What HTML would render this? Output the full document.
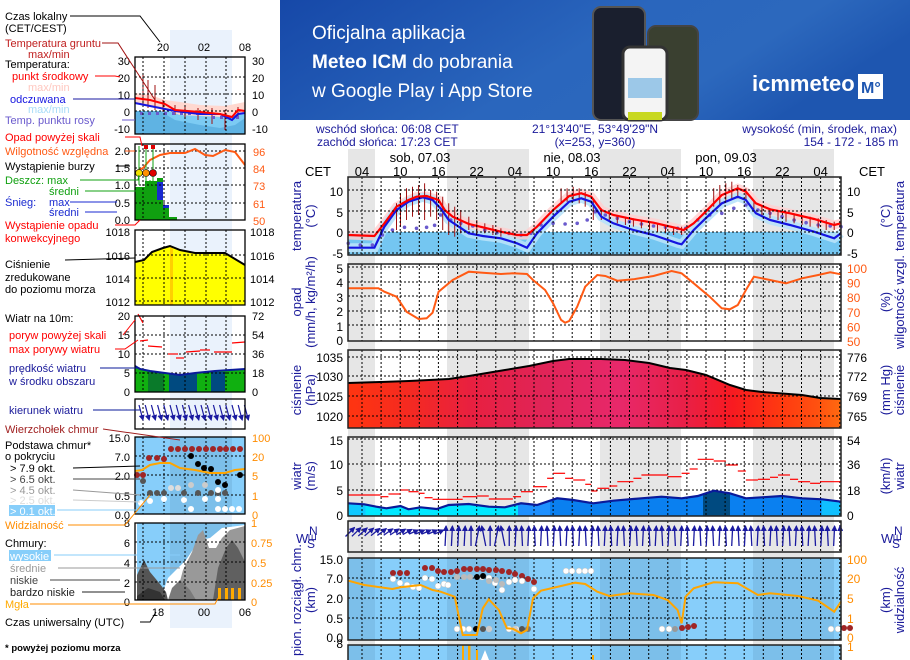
<!DOCTYPE html>
<html><head><meta charset="utf-8">
<style>
html,body{margin:0;padding:0;background:#fff;}
body{width:910px;height:660px;overflow:hidden;position:relative;font-family:"Liberation Sans",sans-serif;}
svg{position:absolute;left:0;top:0;}
text{font-family:"Liberation Sans",sans-serif;}
</style></head>
<body>
<svg id="s" width="910" height="660" viewBox="0 0 910 660" xmlns="http://www.w3.org/2000/svg">
<defs>
<linearGradient id="ban" x1="0" y1="0" x2="1" y2="0.3">
<stop offset="0" stop-color="#1648a8"/><stop offset="0.55" stop-color="#2a66bd"/><stop offset="0.8" stop-color="#2c68bd"/><stop offset="1" stop-color="#1e56b0"/></linearGradient>
<linearGradient id="pres" x1="348" y1="0" x2="841" y2="0" gradientUnits="userSpaceOnUse">
<stop offset="0" stop-color="#ff3510"/><stop offset="0.12" stop-color="#f52a20"/><stop offset="0.25" stop-color="#e82040"/>
<stop offset="0.4" stop-color="#e02458"/><stop offset="0.55" stop-color="#e8286a"/><stop offset="0.68" stop-color="#e82048"/>
<stop offset="0.78" stop-color="#f81a20"/><stop offset="0.88" stop-color="#ff3a10"/><stop offset="0.95" stop-color="#ff5010"/><stop offset="1" stop-color="#ff6a10"/></linearGradient>
<linearGradient id="wnd" x1="348" y1="0" x2="841" y2="0" gradientUnits="userSpaceOnUse">
<stop offset="0" stop-color="#10c8ff"/><stop offset="0.035" stop-color="#10c8ff"/><stop offset="0.035" stop-color="#00e8ff"/>
<stop offset="0.345" stop-color="#00e8ff"/><stop offset="0.345" stop-color="#1e90ff"/><stop offset="0.41" stop-color="#1e90ff"/>
<stop offset="0.41" stop-color="#0a80f0"/><stop offset="0.72" stop-color="#0a80f0"/><stop offset="0.72" stop-color="#004a80"/>
<stop offset="0.775" stop-color="#004a80"/><stop offset="0.775" stop-color="#0a80f0"/><stop offset="0.96" stop-color="#0a80f0"/>
<stop offset="0.96" stop-color="#10c0ff"/><stop offset="1" stop-color="#10c0ff"/></linearGradient>
<marker id="ah" markerWidth="6" markerHeight="6" refX="5" refY="3" orient="auto" markerUnits="userSpaceOnUse"><path d="M0,0 L6,3 L0,6 z" fill="#1a1aa0"/></marker>
</defs>

<rect x="280" y="0" width="630" height="120" fill="url(#ban)"/>
<text x="312" y="39" fill="#fff" font-size="19">Oficjalna aplikacja</text>
<text x="312" y="68" fill="#fff" font-size="19"><tspan font-weight="bold">Meteo ICM</tspan> do pobrania</text>
<text x="312" y="97" fill="#fff" font-size="19">w Google Play i App Store</text>
<rect x="593" y="7" width="52" height="113" rx="8" fill="#1a1f2e" stroke="#555" stroke-width="2"/>
<rect x="648" y="26" width="50" height="94" rx="8" fill="#3a4030" stroke="#444" stroke-width="2"/>
<rect x="623" y="47" width="44" height="73" rx="7" fill="#f4f4f4" stroke="#333" stroke-width="3"/>
<rect x="628" y="78" width="34" height="20" fill="#9cc8e8"/>
<rect x="628" y="112" width="34" height="8" fill="#c8d820"/>
<text x="752" y="91" fill="#fff" font-size="22" font-weight="bold">icmmeteo</text>
<rect x="858" y="74" width="25" height="25" fill="#fff"/>
<text x="861" y="93" fill="#1e56b0" font-size="16" font-weight="bold">M°</text>

<g id="main"></g>
<g id="left"></g>
</svg>
<script>
var S=document.getElementById('main'),L=document.getElementById('left'),NS='http://www.w3.org/2000/svg';
function el(p,t,a,txt){var e=document.createElementNS(NS,t);for(var k in a)e.setAttribute(k,a[k]);if(txt!==undefined)e.textContent=txt;p.appendChild(e);return e;}
function pts(a,ox,oy,sx,sy){return a.map(function(p){return (ox+p[0]*sx).toFixed(1)+','+(oy+p[1]*sy).toFixed(1)}).join(' ');}
var Z2=function(a){return pts(a,280,120,1/2.49,1/3)}, Z4=function(a){return pts(a,280,390,1/2.49,1/3)};
function T(p,x,y,s,opt){opt=opt||{};var a={x:x,y:y,'font-size':opt.fs||12,fill:opt.c||'#000'};if(opt.a)a['text-anchor']=opt.a;if(opt.tr)a.transform=opt.tr;if(opt.fw)a['font-weight']=opt.fw;return el(p,'text',a,s);}
var X0=348,X1=841;
var nights=[[348,375],[447,529],[600,681],[753,834]];
nights.forEach(function(n){el(S,'rect',{x:n[0],y:149,width:n[1]-n[0],height:511,fill:'#e6e6e6'})});
var B='#1a1a9a';
T(S,316,133,'wschód słońca: 06:08 CET',{c:B});T(S,317,146,'zachód słońca: 17:23 CET',{c:B});
T(S,595,133,'21°13\'40"E, 53°49\'29"N',{c:B,a:'middle'});T(S,595,146,'(x=253,  y=360)',{c:B,a:'middle'});
T(S,897,133,'wysokość (min, środek, max)',{c:B,a:'end'});T(S,851,146,'154 - 172 - 185 m',{c:B,a:'middle'});
T(S,420,162,'sob, 07.03',{a:'middle',fs:13});T(S,572,162,'nie, 08.03',{a:'middle',fs:13});T(S,726,162,'pon, 09.03',{a:'middle',fs:13});
T(S,318,176,'CET',{a:'middle',fs:13});T(S,872,176,'CET',{a:'middle',fs:13});
var hl=['04','10','16','22','04','10','16','22','04','10','16','22','04'];
hl.forEach(function(h,i){T(S,362+i*38.22,176,h,{a:'middle',fs:13})});
var panels=[
 {t:177,b:255,h:[190,211,232,253],l:[[10,191],[5,212],[0,232],[-5,253]]},
 {t:264,b:341,h:[267,282,296,311,325],l:[[5,268],[4,282],[3,297],[2,311],[1,326],[0,340]]},
 {t:350,b:428,h:[357,376,396,416],l:[[1035,357],[1030,376],[1025,396],[1020,416]]},
 {t:437,b:516,h:[439,464,490],l:[[15,440],[10,464],[5,490],[0,515]]},
 {t:521,b:552,h:[]},
 {t:558,b:640,h:[578,598,618],l:[['15.0',559],['7.0',578],['2.0',598],['0.5',618],['0.0',637]]},
 {t:645,b:662,h:[]}];
panels.forEach(function(p,i){
 var g=el(S,'g',{});
 if(i==5||i==6){el(g,'rect',{x:X0,y:p.t,width:X1-X0,height:p.b-p.t,fill:'#87cefa'});
  nights.forEach(function(n){el(g,'rect',{x:n[0],y:p.t,width:n[1]-n[0],height:p.b-p.t,fill:'#7cbfea'})});}
});
function grid(p){var g=el(S,'g',{stroke:'#000','stroke-width':1,'stroke-dasharray':'2,2'});
 for(var x=362;x<X1;x+=19.11)el(g,'line',{x1:x.toFixed(1),y1:p.t,x2:x.toFixed(1),y2:p.b});
 p.h.forEach(function(y){el(g,'line',{x1:X0,y1:y,x2:X1,y2:y})});}
function frame(p){el(S,'rect',{x:X0,y:p.t,width:X1-X0,height:p.b-p.t,fill:'none',stroke:'#222','stroke-width':1.5});
 if(p.l)p.l.forEach(function(q){T(S,343,q[1]+5,q[0],{a:'end',fs:12})});}
el(S,'rect',{x:X0,y:232,width:X1-X0,height:23,fill:'#74c6f1'});
var red=[[170,345],[235,348],[260,310],[290,260],[320,240],[340,230],[365,228],[395,240],[410,270],[430,290],[470,312],[505,322],[550,335],[590,345],[615,345],[640,320],[680,270],[720,228],[750,220],[775,230],[800,270],[830,285],[880,298],[930,308],[990,325],[1005,330],[1030,310],[1060,275],[1100,225],[1140,205],[1160,215],[1185,250],[1220,268],[1270,280],[1330,297],[1380,315],[1397,310]];
var blu=[[170,383],[235,383],[260,320],[290,270],[320,245],[355,232],[380,240],[400,265],[420,300],[470,340],[505,348],[550,355],[590,370],[615,383],[640,340],[680,290],[720,245],[750,235],[775,245],[800,290],[830,310],[880,330],[930,345],[990,370],[1000,373],[1030,330],[1060,295],[1100,250],[1140,230],[1160,240],[1185,280],[1220,300],[1270,315],[1330,335],[1380,355],[1397,340]];
el(S,'polyline',{points:Z2(red),fill:'none',stroke:'#ffd0d0','stroke-width':9,opacity:0.8});
el(S,'polyline',{points:Z2(blu),fill:'none',stroke:'#b8e2fa','stroke-width':9,opacity:0.9});
var dew=[[170,370],[200,375],[230,375],[255,345],[280,330],[310,322],[340,325],[365,322],[385,316],[400,285],[425,300],[450,310],[480,318],[510,330],[540,338],[570,340],[600,345],[625,340],[650,315],[680,310],[710,312],[740,310],[765,300],[785,275],[810,285],[840,295],[870,305],[900,312],[930,318],[960,322],[990,325],[1010,325],[1040,300],[1070,285],[1100,280],[1130,265],[1160,255],[1190,270],[1220,280],[1250,290],[1280,300],[1310,308],[1340,315],[1370,318],[1397,320]];
dew.forEach(function(p){el(S,'circle',{cx:(280+p[0]/2.49).toFixed(1),cy:(120+p[1]/3).toFixed(1),r:1.8,fill:'#6a5acd'})});
var gb=[[290,250,330],[300,220,320],[315,205,300],[330,200,290],[345,195,285],[360,190,300],[375,210,290],[390,215,300],[405,230,330],[420,250,345],[435,260,350],[450,270,340],[470,290,330],[490,300,340],[510,310,340],[530,315,345],[550,325,350],[700,205,250],[715,205,245],[730,200,245],[745,205,250],[760,215,260],[780,240,300],[800,265,300],[820,275,305],[840,285,310],[860,290,315],[880,295,320],[900,300,325],[920,305,330],[940,310,335],[960,315,340],[980,320,345],[1000,320,345],[1080,205,260],[1095,195,255],[1110,190,245],[1125,185,240],[1140,195,235],[1160,205,240],[1180,240,275],[1200,255,290],[1220,265,295],[1240,270,300],[1260,275,305],[1280,280,310],[1300,285,315],[1320,290,320],[1340,295,325],[1360,300,330],[1380,305,330]];
gb.forEach(function(b){var x=(280+b[0]/2.49).toFixed(1);el(S,'line',{x1:x,y1:(120+b[1]/3).toFixed(1),x2:x,y2:(120+b[2]/3).toFixed(1),stroke:'#a01010','stroke-width':1})});
el(S,'polyline',{points:Z2(blu),fill:'none',stroke:'#1515e0','stroke-width':2.2});
el(S,'polyline',{points:Z2(red),fill:'none',stroke:'#ff0000','stroke-width':2.2});
var hum=[[170,505],[245,505],[260,515],[290,530],[315,575],[345,597],[365,595],[380,578],[395,515],[430,480],[470,455],[505,458],[550,462],[580,460],[615,462],[630,480],[660,510],[680,550],[700,600],[710,608],[720,603],[740,560],[760,500],[790,465],[810,468],[840,482],[880,478],[930,468],[975,453],[1000,460],[1030,490],[1070,530],[1100,565],[1120,568],[1140,555],[1160,510],[1180,470],[1200,475],[1220,480],[1260,490],[1300,475],[1340,465],[1370,457],[1397,463]];
var pr=[[348,383],[380,382],[409,381],[449,379],[469,376],[505,370],[529,366],[553,361],[569,359],[601,359],[625,360],[649,363],[670,368],[686,370],[706,375],[730,385],[746,390],[762,392],[802,395],[820,398],[841,399]];
el(S,'polygon',{points:pr.map(function(p){return p.join(',')}).join(' ')+' 841,428 348,428',fill:'url(#pres)'});
var ws=[[170,340],[210,343],[240,350],[265,355],[300,348],[320,358],[350,352],[390,357],[420,345],[470,342],[520,350],[560,352],[600,340],[640,345],[690,325],[730,330],[780,340],[830,332],[900,325],[950,320],[1000,325],[1040,318],[1080,302],[1120,310],[1160,325],[1200,322],[1250,318],[1300,325],[1350,328],[1397,335]];
el(S,'polygon',{points:Z4(ws)+' 841,516 348,516',fill:'url(#wnd)'});
panels.forEach(function(p){grid(p)});
el(S,'polyline',{points:Z2(hum),fill:'none',stroke:'#ff5a14','stroke-width':2});
el(S,'polyline',{points:pr.map(function(p){return p.join(',')}).join(' '),fill:'none',stroke:'#000','stroke-width':2});
el(S,'polyline',{points:Z4(ws),fill:'none',stroke:'#0a1a9a','stroke-width':2.2});
var gs=[[170,250,315],[250,270,320],[270,300,312],[300,320,300],[320,345,305],[345,360,310],[360,380,323],[380,395,328],[395,455,328],[455,490,320],[490,520,318],[520,580,327],[580,600,320],[600,630,305],[630,665,290],[665,680,265],[680,710,250],[710,730,265],[730,760,270],[760,775,283],[775,790,303],[790,820,295],[820,840,288],[840,880,275],[880,900,265],[900,965,255],[965,1000,260],[1000,1020,250],[1020,1040,237],[1040,1080,208],[1080,1110,213],[1110,1140,225],[1140,1160,243],[1160,1190,270],[1190,1220,268],[1220,1240,262],[1240,1270,255],[1270,1290,268],[1290,1320,275],[1320,1345,280],[1345,1397,275]];
gs.forEach(function(s){var y=(390+s[2]/3).toFixed(1);el(S,'line',{x1:(280+s[0]/2.49).toFixed(1),y1:y,x2:(280+s[1]/2.49).toFixed(1),y2:y,stroke:'#ff0000','stroke-width':1.2})});
for(var i=0;i<78;i++){var x=350+i*6.37,dx,dy;
 if(x<410){dx=9;dy=-9+ (x-350)/60*4;}else if(x<440){dx=9;dy=-4;}else if(x<470){dx=1;dy=-20;}else if(x<510){dx=(i%3-1)*4;dy=-20;}else{dx=(i%2)?-1:1;dy=-20;}
 var y0=(x<440)?542:546;
 el(S,'line',{x1:x-dx/2,y1:y0-dy/2-10,x2:x+dx/2,y2:y0+dy/2-10,stroke:'#1a1aa0','stroke-width':1.3,'marker-end':'url(#ah)'});}
function dot(x,y,c){el(S,'circle',{cx:x,cy:y,r:3,fill:c,stroke:c=='#fff'?'#bbb':'none','stroke-width':0.5})}
[393,400,407].forEach(function(x){dot(x,573,'#a02525')});
[[425,568],[432,568],[438,571],[444,572],[451,572],[457,571],[464,569],[470,569],[477,569],[483,569],[489,570],[496,570],[502,571],[509,572],[515,574],[522,576],[528,579],[534,582]].forEach(function(p){dot(p[0],p[1],'#a02525')});
[[393,579],[400,583],[407,585],[413,587],[419,588],[425,578],[432,579],[438,586],[444,584],[448,585],[482,577],[489,578],[495,583],[502,590],[509,582],[515,580],[522,581],[534,589]].forEach(function(p){dot(p[0],p[1],'#fff')});
[[477,577],[483,576]].forEach(function(p){dot(p[0],p[1],'#000')});
[[457,577],[464,577],[470,577],[489,581],[496,580],[502,584]].forEach(function(p){dot(p[0],p[1],'#bbbbbb')});
[[566,571],[572,571],[579,571],[585,571],[591,571]].forEach(function(p){dot(p[0],p[1],'#fff')});
[[457,629],[463,629],[469,629],[489,629],[509,629],[516,629],[662,629],[669,629],[831,629],[838,629]].forEach(function(p){dot(p[0],p[1],'#fff')});
[[476,629],[483,629,'#555'],[522,629,'#555'],[528,629,'#777'],[675,629,'#999'],[682,628,'#a02525'],[688,627,'#a02525'],[694,626,'#a02525'],[844,628,'#a02525'],[850,628,'#a02525']].forEach(function(p){dot(p[0],p[1],p[2]||'#000')});
[[489,629],[515,629]].forEach(function(p){dot(p[0],p[1],'#ccc')});
var vis=[[170,572],[210,585],[280,597],[300,592],[350,585],[380,600],[400,605],[435,620],[455,735],[490,735],[505,655],[520,628],[545,660],[565,715],[580,716],[600,730],[615,720],[630,625],[650,602],[700,588],[735,578],[760,582],[790,605],[820,618],[870,610],[930,615],[965,630],[990,660],[1000,700],[1010,620],[1030,595],[1080,577],[1140,580],[1190,615],[1220,610],[1290,618],[1340,632],[1380,665],[1397,635]];
el(S,'polyline',{points:Z4(vis),fill:'none',stroke:'#ffa500','stroke-width':2});
[[462,645,2],[468,645,2.5],[476,650,2],[592,655,2]].forEach(function(b){el(S,'rect',{x:b[0],y:b[1],width:b[2],height:15,fill:'#ffaa00'})});
el(S,'polygon',{points:'481,660 485,650 489,660',fill:'#fff'});
panels.forEach(function(p){frame(p)});
T(S,343,648,'8',{a:'end'});
function R(arr,c){arr.forEach(function(q){T(S,847,q[1]+5,q[0],{c:c||'#000'})})}
R([[10,191],[5,212],[0,232],[-5,253]]);
R([[100,268],[90,287],[80,306],[70,325],[60,343],[50,356]].map(function(q,i){return [q[0],268+i*14.6]}),'#ff5a14');
R([[776,357],[772,376],[769,396],[765,416]]);
R([[54,440],[36,464],[18,490],[0,515]]);
R([[100,559],[20,578],[5,598],[1,618],[0,637]],'#ff8c00');
T(S,847,651,'1',{c:'#ff8c00'});
function RT(x,y,lines,c){lines.forEach(function(s,i){T(S,x+i*14,y,s,{a:'middle',c:c||B,fs:13,tr:'rotate(-90 '+(x+i*14)+' '+y+')'})})}
RT(301,216,['temperatura','(°C)']);
RT(301,302,['opad','(mm/h, kg/m²/h)']);
RT(301,390,['ciśnienie','(hPa)']);
RT(301,476,['wiatr','(m/s)']);
RT(301,600,['pion. rozciągł. chm.','(km)']);
RT(890,216,['(°C)','temperatura']);
RT(890,302,['(%)','wilgotność wzgl.']);
RT(890,390,['(mm Hg)','ciśnienie']);
RT(890,476,['(km/h)','wiatr']);
RT(890,600,['(km)','widzialność']);
[[296,531],[881,531]].forEach(function(p){T(S,p[0],p[1]+12,'W',{c:B,fs:13});T(S,p[0]+13,p[1]+4,'N',{c:B,fs:12});T(S,p[0]+11,p[1]+17,'S',{c:B,fs:12});T(S,p[0]+20,p[1]+10,'E',{c:B,fs:11,tr:'rotate(-90 '+(p[0]+20)+' '+(p[1]+10)+')'})});

var LX0=135,LX1=245;
el(L,'rect',{x:170,y:30,width:62,height:598,fill:'#eaf2fc'});
function lgrid(t,b,hs){var g=el(L,'g',{stroke:'#000','stroke-width':1,'stroke-dasharray':'2,2'});
 [143,164,185,206,226].forEach(function(x){el(g,'line',{x1:x,y1:t,x2:x,y2:b})});
 hs.forEach(function(y){el(g,'line',{x1:LX0,y1:y,x2:LX1,y2:y})});}
function lframe(t,b){el(L,'rect',{x:LX0,y:t,width:LX1-LX0,height:b-t,fill:'none',stroke:'#000','stroke-width':1.3})}
function LT(x,y,s,c,o){o=o||{};return T(L,x,y,s,{c:c,fs:o.fs||11,a:o.a,fw:o.fw})}
el(L,'rect',{x:LX0,y:111,width:110,height:23,fill:'#7ccbf3'});
el(L,'polygon',{points:'135,111 160,111 175,120 200,125 220,128 235,125 245,118 245,134 135,134',fill:'#5fb3e3'});
el(L,'polygon',{points:'135,93 150,95 165,100 180,102 200,105 225,106 245,102 245,113 225,117 200,116 180,115 160,108 135,102',fill:'#ffd8d0'});
[[143,75,105],[148,80,108],[155,85,110],[163,100,112],[175,105,115],[185,105,118],[198,108,120],[212,108,124],[225,110,130],[238,107,118]].forEach(function(b){el(L,'line',{x1:b[0],y1:b[1],x2:b[0],y2:b[2],stroke:'#a01010'})});
[140,148,156,164,172,180,188,196,204,212,220,228,236].forEach(function(x,i){el(L,'rect',{x:x,y:112+(i>8?4:0),width:3,height:3,fill:'#6a5acd'})});
lgrid(57,134,[77,94,111]);
el(L,'polyline',{points:'135,103 150,106 165,109 175,111 200,114 220,114 232,120 238,114 245,113',fill:'none',stroke:'#1515e0','stroke-width':2});
el(L,'polyline',{points:'135,98 150,100 165,104 175,110 200,112 220,114 232,117 238,110 245,111',fill:'none',stroke:'#ff0000','stroke-width':2});
lframe(57,134);
[[30,61],[20,78],[10,95],[0,112],[-10,129]].forEach(function(q){LT(130,q[1]+4,q[0],'#000',{a:'end'});LT(252,q[1]+4,q[0],'#000')});
el(L,'rect',{x:135,y:187,width:10,height:33,fill:'#10a010'});
el(L,'rect',{x:145,y:181,width:12,height:39,fill:'#10a010'});
el(L,'rect',{x:157,y:178,width:6,height:42,fill:'#10a010'});
el(L,'rect',{x:157,y:182,width:6,height:18,fill:'#1a2ad0'});
el(L,'rect',{x:163,y:205,width:6,height:15,fill:'#10a010'});
el(L,'rect',{x:163,y:205,width:6,height:3,fill:'#1a2ad0'});
el(L,'rect',{x:169,y:217,width:8,height:3,fill:'#10a010'});
lgrid(144,220,[151,168,185,203]);
el(L,'polyline',{points:'135,172 143,168 150,160 160,155 170,153 185,153 195,149 205,155 213,156 225,150 235,152 245,165',fill:'none',stroke:'#ff5a14','stroke-width':2});
[[139,'#f0e000'],[146,'#ff9000'],[153,'#e00000']].forEach(function(d){el(L,'line',{x1:d[0],y1:146,x2:d[0],y2:185,stroke:'#10a010'});el(L,'circle',{cx:d[0],cy:173,r:3.5,fill:d[1],stroke:'#000','stroke-width':0.6})});
[146,153].forEach(function(x){el(L,'rect',{x:x-2,y:145,width:4,height:4,fill:'#e00000'})});
lframe(144,220);
[['2.0',151],['1.5',168],['1.0',185],['0.5',203],['0.0',220]].forEach(function(q){LT(130,q[1]+4,q[0],'#000',{a:'end'})});
[[96,151],[84,168],[73,185],[61,203],[50,220]].forEach(function(q){LT(253,q[1]+5,q[0],'#ff5a14')});
el(L,'polygon',{points:'135,262 144,260 152,252 163,248 170,246 180,250 195,253 225,253 245,265 245,305 135,305',fill:'#ffff00'});
el(L,'rect',{x:170,y:247,width:3,height:58,fill:'#ffd000'});
lgrid(230,305,[255,278,301]);
el(L,'polyline',{points:'135,262 144,260 152,252 163,248 170,246 180,250 195,253 225,253 245,265',fill:'none',stroke:'#000','stroke-width':2});
lframe(230,305);
[[1018,231],[1016,255],[1014,278],[1012,301]].forEach(function(q){LT(130,q[1]+5,q[0],'#000',{a:'end'});LT(250,q[1]+5,q[0],'#000')});
el(L,'polygon',{points:'135,366 140,369 150,371 165,373 180,375 195,373 215,371 230,370 245,369 245,392 135,392',fill:'#10b010'});
el(L,'rect',{x:148,y:372,width:16,height:20,fill:'#0a7a2a'});
el(L,'rect',{x:169,y:374,width:28,height:18,fill:'#004a80'});
el(L,'rect',{x:211,y:372,width:14,height:20,fill:'#004a80'});
lgrid(316,392,[335,354,373]);
el(L,'polyline',{points:'135,366 140,369 150,371 165,373 180,375 195,373 215,371 230,370 245,369',fill:'none',stroke:'#0a1a9a','stroke-width':2});
[[138,314,143,323],[140,341,148,340],[148,346,162,347],[168,354,178,354],[176,358,184,358],[186,352,200,351],[200,350,210,350],[214,352,232,352],[232,343,245,342]].forEach(function(s){el(L,'line',{x1:s[0],y1:s[1],x2:s[2],y2:s[3],stroke:'#ff0000','stroke-width':1.2})});
lframe(316,392);
[[20,316],[15,335],[10,354],[5,373],[0,392]].forEach(function(q){LT(130,q[1]+4,q[0],'#000',{a:'end'})});
[[72,316],[54,335],[36,354],[18,373],[0,392]].forEach(function(q){LT(252,q[1]+4,q[0],'#000')});
lgrid(399,429,[]);
for(var i=0;i<18;i++){var x=139+i*6.2;el(L,'line',{x1:x,y1:405,x2:x+4,y2:420,stroke:'#1a1aa0','stroke-width':1.2,'marker-end':'url(#ah)'});}
lframe(399,429);
el(L,'rect',{x:LX0,y:437,width:110,height:77,fill:'#87cefa'});
el(L,'rect',{x:170,y:437,width:62,height:77,fill:'#7cbfea'});
lgrid(437,514,[456,475,495]);
el(L,'polyline',{points:'135,471 142,470 150,465 160,463 170,463 180,468 195,470 210,473 225,473 235,470 245,469',fill:'none',stroke:'#ffa500','stroke-width':2});
[[137,475,'#a02525'],[143,475,'#a02525'],[149,458,'#a02525'],[157,458,'#a02525'],[164,459,'#a02525'],[171,449,'#a02525'],[178,449,'#a02525'],[185,449,'#a02525'],[192,449,'#a02525'],[199,449,'#a02525'],[206,449,'#a02525'],[213,449,'#a02525'],[220,449,'#a02525'],[226,449,'#a02525'],[233,449,'#a02525'],[240,449,'#a02525'],[191,456,'#000'],[198,464,'#000'],[204,468,'#000'],[211,469,'#000'],[218,482,'#000'],[225,485,'#000'],[240,475,'#000'],[143,481,'#555'],[150,493,'#555'],[157,493,'#555'],[164,493,'#555'],[184,493,'#555'],[198,493,'#555'],[211,493,'#555'],[218,493,'#555'],[225,493,'#555'],[171,488,'#ddd'],[178,488,'#ddd'],[191,485,'#ccc'],[205,485,'#ccc'],[141,503,'#fff'],[150,501,'#fff'],[164,499,'#fff'],[184,500,'#fff'],[191,509,'#fff'],[205,499,'#fff'],[218,490,'#fff'],[218,499,'#fff'],[225,509,'#fff'],[232,509,'#fff'],[239,509,'#fff'],[218,509,'#fff']].forEach(function(d){el(L,'circle',{cx:d[0],cy:d[1],r:3,fill:d[2]})});
lframe(437,514);
[['15.0',437],['7.0',456],['2.0',475],['0.5',495],['0.0',514]].forEach(function(q){LT(130,q[1]+5,q[0],'#000',{a:'end'})});
[[100,437],[20,456],[5,475],[1,495],[0,514]].forEach(function(q){LT(252,q[1]+5,q[0],'#ff8c00')});
el(L,'rect',{x:137,y:523,width:108,height:77,fill:'#87cefa'});
el(L,'rect',{x:170,y:523,width:62,height:77,fill:'#7cbfea'});
el(L,'polygon',{points:'160,600 168,578 178,568 186,560 194,548 200,540 210,538 222,528 245,525 245,600',fill:'#fff'});
el(L,'polygon',{points:'175,600 183,570 192,552 198,535 203,530 209,548 216,548 222,538 230,530 245,526 245,600',fill:'#999'});
el(L,'polygon',{points:'168,600 172,588 180,580 190,590 196,600',fill:'#7a7a7a'});
el(L,'polygon',{points:'137,575 144,560 150,572 160,584 166,592 168,600 137,600',fill:'#555'});
el(L,'polygon',{points:'137,596 148,588 160,592 165,600 137,600',fill:'#333'});
el(L,'polygon',{points:'213,600 218,568 226,548 232,540 238,548 245,562 245,600',fill:'#606060'});
lgrid(523,600,[542,562,582]);
[218,225,231,238].forEach(function(x){el(L,'rect',{x:x,y:588,width:3,height:12,fill:'#ffaa00'})});
lframe(523,600);
[[8,522],[6,542],[4,562],[2,582],[0,601]].forEach(function(q){LT(130,q[1]+5,q[0],'#000',{a:'end'})});
[[1,522],['0.75',542],['0.5',562],['0.25',582],[0,601]].forEach(function(q){LT(251,q[1]+5,q[0],'#ff8c00')});
LT(163,51,'20','#000',{a:'middle'});LT(204,51,'02','#000',{a:'middle'});LT(245,51,'08','#000',{a:'middle'});
LT(158,616,'18','#000',{a:'middle'});LT(204,616,'00','#000',{a:'middle'});LT(245,616,'06','#000',{a:'middle'});
var lk='#000';
LT(5,20,'Czas lokalny',lk);LT(5,32,'(CET/CEST)',lk);
LT(5,47,'Temperatura gruntu','#c02020');LT(28,58,'max/min','#c02020');
LT(5,68,'Temperatura:',lk);LT(12,80,'punkt środkowy','#ff0000');LT(28,91,'max/min','#ffc8c0');
LT(10,103,'odczuwana','#1515e0');LT(28,113,'max/min','#a8dcf8');LT(5,124,'Temp. punktu rosy','#6a5acd');
LT(5,141,'Opad powyżej skali','#ff0000');LT(5,155,'Wilgotność względna','#ff5a14');LT(5,170,'Wystąpienie burzy',lk);
LT(5,184,'Deszcz: max','#10a010');LT(49,195,'średni','#10a010');LT(5,206,'Śnieg:','#1a2ad0');LT(49,206,'max','#1a2ad0');LT(49,216,'średni','#1a2ad0');
LT(5,229,'Wystąpienie opadu','#ff0000');LT(5,242,'konwekcyjnego','#ff0000');
LT(5,268,'Ciśnienie',lk);LT(5,281,'zredukowane',lk);LT(5,293,'do poziomu morza',lk);
LT(5,322,'Wiatr na 10m:',lk);LT(9,339,'poryw powyżej skali','#ff0000');LT(9,353,'max porywy wiatru','#ff0000');
LT(9,372,'prędkość wiatru',B);LT(9,385,'w środku obszaru',B);LT(9,414,'kierunek wiatru',B);
LT(5,433,'Wierzchołek chmur','#a02020');LT(5,449,'Podstawa chmur*',lk);LT(5,460,'o pokryciu',lk);
LT(10,472,'> 7.9 okt.','#000');LT(10,483,'> 6.5 okt.','#444');LT(10,494,'> 4.5 okt.','#999');LT(10,504,'> 2.5 okt.','#ddd');
el(L,'rect',{x:9,y:505,width:46,height:11,fill:'#87cefa'});LT(10,515,'> 0.1 okt.','#fff');
LT(5,529,'Widzialność','#ff8c00');LT(5,547,'Chmury:',lk);
el(L,'rect',{x:9,y:550,width:42,height:11,fill:'#87cefa'});LT(10,560,'wysokie','#fff');
LT(10,572,'średnie','#999');LT(10,584,'niskie','#444');LT(10,596,'bardzo niskie','#222');LT(5,608,'Mgła','#ffaa00');
LT(5,626,'Czas uniwersalny (UTC)',lk);
LT(5,651,'* powyżej poziomu morza','#000',{fs:9.5,fw:'bold'});
var LL=[['#000','70,16 140,16 160,42'],['#a01010','102,43 118,43 155,100'],['#ff0000','95,76 115,76 120,77'],['#1a1aa0','73,99 135,99'],['#6a5acd','122,120 135,120'],['#ff0000','125,137 140,137 142,146'],['#ff5a14','125,151 135,151'],['#000','116,166 130,166'],['#10a010','80,180 138,180 139,175'],['#10a010','85,191 150,191 150,180'],['#1a2ad0','70,202 117,202'],['#1a2ad0','85,212 117,212'],['#ff0000','115,225 135,225 140,220'],['#000','65,260 135,258'],['#ff0000','123,335 127,330 135,320'],['#ff0000','115,349 125,349 138,340'],['#0a1a9a','100,368 140,368'],['#0a1a9a','93,410 140,410'],['#a02020','103,429 180,440'],['#000','73,468 140,466'],['#444','73,479 140,479'],['#999','73,490 140,495'],['#ccc','73,500 140,502'],['#87cefa','57,510 140,510'],['#ff8c00','68,525 125,525 150,495'],['#87cefa','54,555 180,555'],['#999','58,568 180,568'],['#444','50,580 120,580'],['#222','82,592 125,592'],['#ff8c00','30,604 215,604 218,598'],['#000','140,622 150,622 156,612']];
LL.forEach(function(l){el(L,'polyline',{points:l[1],fill:'none',stroke:l[0],'stroke-width':1})});
</script>
</body></html>
